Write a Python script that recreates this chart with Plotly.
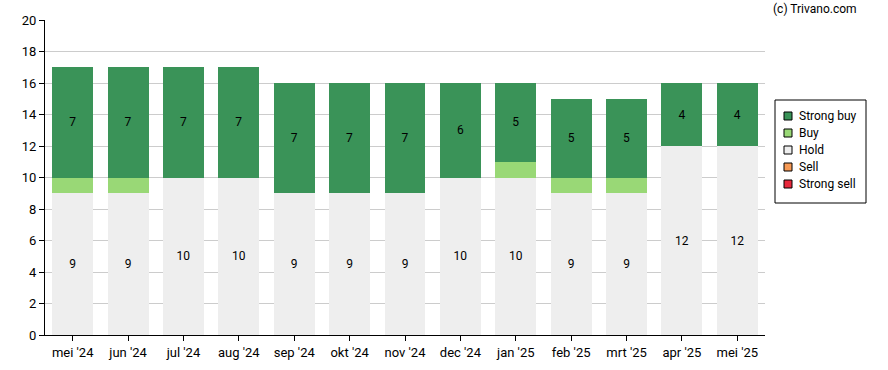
import plotly.graph_objects as go

months = ["mei '24", "jun '24", "jul '24", "aug '24", "sep '24", "okt '24", "nov '24",
          "dec '24", "jan '25", "feb '25", "mrt '25", "apr '25", "mei '25"]
strong_sell = [0, 0, 0, 0, 0, 0, 0, 0, 0, 0, 0, 0, 0]
sell = [0, 0, 0, 0, 0, 0, 0, 0, 0, 0, 0, 0, 0]
hold = [9, 9, 10, 10, 9, 9, 9, 10, 10, 9, 9, 12, 12]
buy = [1, 1, 0, 0, 0, 0, 0, 0, 1, 1, 1, 0, 0]
strong_buy = [7, 7, 7, 7, 7, 7, 7, 6, 5, 5, 5, 4, 4]

series = [
    ("Strong sell", strong_sell, "#e8283c", False),
    ("Sell", sell, "#f79a55", False),
    ("Hold", hold, "#eeeeee", True),
    ("Buy", buy, "#99d876", False),
    ("Strong buy", strong_buy, "#3a9358", True),
]

L, R, T, B = 45, 123, 20, 35
W, H = 888, 370
PW, PH = W - L - R, H - T - B


def px(x):
    return (x - L) / PW


def py(y):
    return (H - B - y) / PH


fig = go.Figure()
for name, vals, color, labels in series:
    fig.add_trace(go.Bar(
        x=months, y=vals, name=name, showlegend=False,
        marker=dict(color=color, line=dict(width=0)),
        text=[str(v) if (labels and v > 0) else "" for v in vals],
        textposition="inside", insidetextanchor="middle",
        textfont=dict(color="black", size=12, family="Roboto"),
        textangle=0,
    ))

# legend drawn manually (box, swatches, labels)
shapes = [dict(type="rect", xref="paper", yref="paper",
               x0=px(775), x1=px(866), y0=py(203), y1=py(100),
               line=dict(color="black", width=1), fillcolor="white")]
annotations = []
for i, (name, vals, color, labels) in enumerate(reversed(series)):
    cy = 116 + 17 * i
    shapes.append(dict(type="rect", xref="paper", yref="paper",
                       x0=px(784), x1=px(792), y0=py(cy + 4), y1=py(cy - 4),
                       line=dict(color="black", width=1), fillcolor=color))
    annotations.append(dict(text=name, xref="paper", yref="paper",
                            x=px(797), y=py(cy), xanchor="left", yanchor="middle",
                            showarrow=False, font=dict(size=12, family="Roboto")))

annotations.append(dict(
    text="(c) Trivano.com", xref="paper", yref="paper",
    x=px(815), y=py(9), xanchor="center", yanchor="middle",
    showarrow=False, font=dict(size=12, family="Roboto"),
))

fig.update_layout(
    barmode="stack", bargap=0.26,
    width=W, height=H,
    margin=dict(l=L, r=R, t=T, b=B, autoexpand=False),
    paper_bgcolor="white", plot_bgcolor="white",
    font=dict(family="Roboto", size=12, color="black"),
    uniformtext=dict(mode="show", minsize=12),
    showlegend=False,
    xaxis=dict(
        showline=True, linecolor="black", linewidth=1,
        ticks="outside", ticklen=5, tickcolor="black",
        tickfont=dict(size=13), showgrid=False, automargin=False,
    ),
    yaxis=dict(
        range=[0, 20], dtick=2, showline=True, linecolor="black", linewidth=1,
        ticks="outside", ticklen=5, tickcolor="black",
        gridcolor="#cccccc", gridwidth=1, tickfont=dict(size=13),
        zeroline=False, automargin=False,
    ),
    shapes=shapes,
    annotations=annotations,
)

fig.write_html("out.html", config={"displayModeBar": False},
               post_script="document.body.style.margin='0';document.body.style.overflow='hidden';")
